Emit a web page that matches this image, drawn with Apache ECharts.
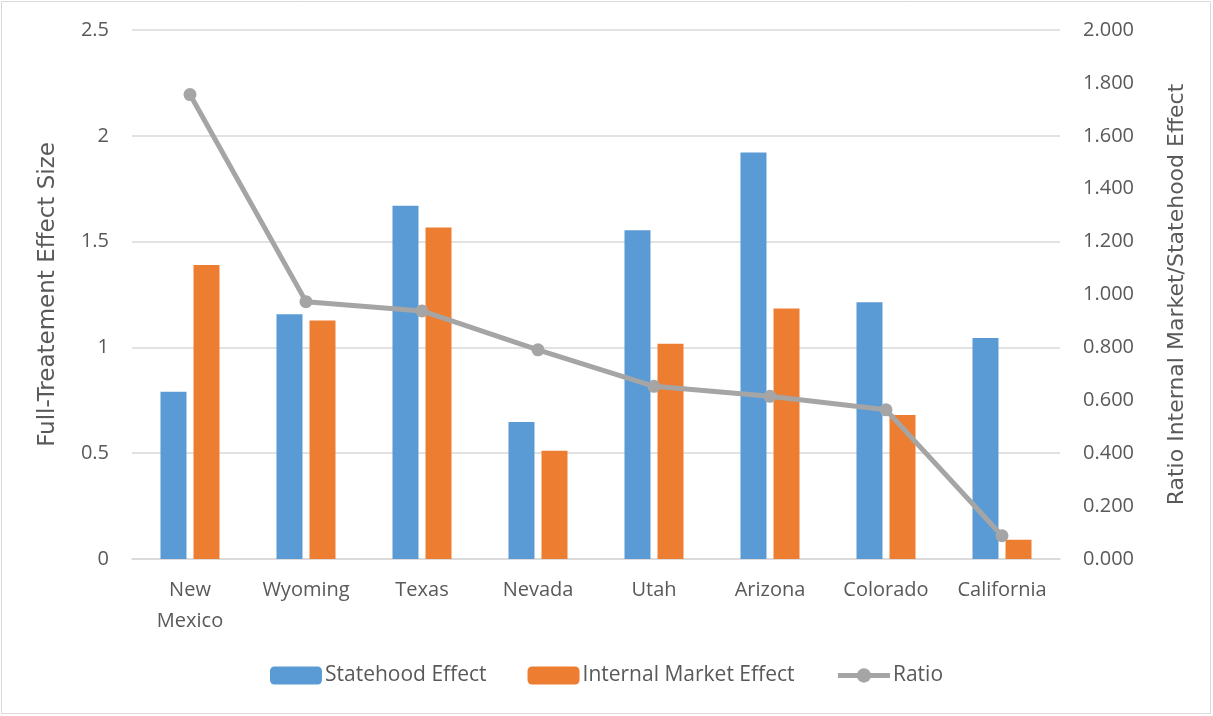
<!DOCTYPE html>
<html>
<head>
<meta charset="utf-8">
<script src="https://cdn.jsdelivr.net/npm/echarts@6/dist/echarts.min.js"></script>
<style>
  html, body { margin: 0; padding: 0; background: #ffffff; }
  #chart { width: 1213px; height: 716px; }
</style>
</head>
<body>
<div id="chart"></div>
<script>
// Effect sizes by state and the ratio of internal-market to statehood effect
const categories = ['New Mexico', 'Wyoming', 'Texas', 'Nevada', 'Utah', 'Arizona', 'Colorado', 'California'];
const statehoodEffect = [0.79, 1.157, 1.67, 0.648, 1.554, 1.921, 1.213, 1.044];
const internalMarketEffect = [1.39, 1.127, 1.567, 0.511, 1.017, 1.184, 0.681, 0.091];
const ratio = [1.756, 0.973, 0.938, 0.791, 0.653, 0.615, 0.564, 0.088];

const FONT = 'Open Sans';
const TITLE_FONT = 'DejaVu Sans';
const TEXT = '#595959';
const GRID = '#d9d9d9';
const GREY = '#a5a5a5';

const chart = echarts.init(document.getElementById('chart'), null, { renderer: 'canvas' });

chart.setOption({
  backgroundColor: '#ffffff',
  animation: false,
  textStyle: { fontFamily: FONT, color: TEXT },
  graphic: [{
    type: 'rect',
    shape: { x: 1.5, y: 1.5, width: 1209, height: 712 },
    style: { fill: 'none', stroke: GRID, lineWidth: 1 },
    silent: true
  }],
  grid: { left: 132, right: 153, top: 30, bottom: 157, containLabel: false },
  legend: {
    left: 'center',
    top: 660,
    itemWidth: 52,
    itemHeight: 18,
    itemGap: 41,
    textStyle: { fontFamily: FONT, fontSize: 21, color: TEXT, padding: [0, 0, 0, -2] },
    data: [
      'Statehood Effect',
      'Internal Market Effect',
      { name: 'Ratio', lineStyle: { width: 5, color: GREY }, itemStyle: { color: GREY } }
    ]
  },
  xAxis: {
    type: 'category',
    data: categories,
    axisLine: { show: true, lineStyle: { color: GRID, width: 1.5 } },
    axisTick: { show: false },
    axisLabel: {
      fontFamily: FONT, fontSize: 20, color: TEXT, margin: 16, lineHeight: 31,
      interval: 0,
      formatter: v => v === 'New Mexico' ? 'New\nMexico' : v
    }
  },
  yAxis: [{
    type: 'value',
    min: 0, max: 2.5, interval: 0.5,
    name: 'Full-Treatement Effect Size',
    nameLocation: 'middle',
    nameGap: 72,
    nameTextStyle: { fontFamily: TITLE_FONT, fontSize: 23, color: TEXT },
    axisLine: { show: false },
    axisTick: { show: false },
    axisLabel: { fontFamily: FONT, fontSize: 20, color: TEXT, margin: 23 },
    splitLine: { show: true, lineStyle: { color: GRID, width: 1.5 } }
  }, {
    type: 'value',
    min: 0, max: 2, interval: 0.2,
    name: 'Ratio Internal Market/Statehood Effect',
    nameLocation: 'middle',
    nameGap: 106,
    nameRotate: 90,
    nameTextStyle: { fontFamily: TITLE_FONT, fontSize: 22, color: TEXT },
    axisLine: { show: false },
    axisTick: { show: false },
    axisLabel: {
      fontFamily: FONT, fontSize: 20, color: TEXT, margin: 23,
      formatter: v => v.toFixed(3)
    },
    splitLine: { show: false }
  }],
  series: [{
    name: 'Statehood Effect',
    type: 'bar',
    yAxisIndex: 0,
    data: statehoodEffect,
    barWidth: 26,
    barGap: '27%',
    itemStyle: { color: '#5b9bd5' }
  }, {
    name: 'Internal Market Effect',
    type: 'bar',
    yAxisIndex: 0,
    data: internalMarketEffect,
    barWidth: 26,
    barGap: '27%',
    itemStyle: { color: '#ed7d31' }
  }, {
    name: 'Ratio',
    type: 'line',
    yAxisIndex: 1,
    data: ratio,
    symbol: 'circle',
    symbolSize: 13,
    lineStyle: { color: GREY, width: 5 },
    itemStyle: { color: GREY },
    z: 5
  }]
});
</script>
</body>
</html>
